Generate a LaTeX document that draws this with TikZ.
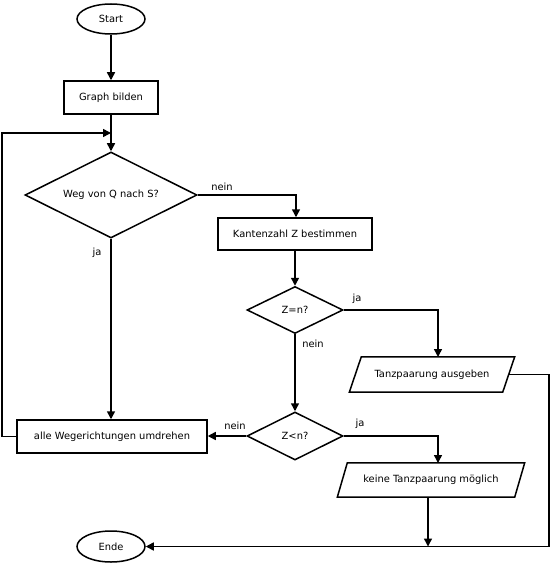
\documentclass[tikz,border=0pt]{standalone}
\usepackage{fontspec}
\setmainfont{DejaVu Sans}
\usetikzlibrary{shapes.geometric,arrows.meta}
\begin{document}
\begin{tikzpicture}[x=1pt,y=-1pt,
  every node/.style={font=\fontsize{9.9}{11}\selectfont, inner sep=0pt},
  line/.style={line width=1.5pt},
  arr/.style={line width=1.5pt, -{Triangle[length=8pt,width=8pt]}},
  term/.style={draw, line width=1.5pt, ellipse, minimum width=68pt, minimum height=30pt},
  procbox/.style={draw, line width=1.5pt, rectangle, minimum height=33pt},
  decide/.style={draw, line width=1.5pt, diamond, aspect=2},
  iobox/.style={rectangle, minimum height=35pt},
  lbl/.style={font=\fontsize{9.9}{11}\selectfont}]
\useasboundingbox (0,0) rectangle (550,564);
\fill[white] (0,0) rectangle (550,564);

\node[term] (start) at (111,19) {Start};
\node[procbox, minimum width=94pt] (graph) at (111,97.5) {Graph bilden};
\node[decide, minimum width=172pt, minimum height=86pt] (d1) at (111,195) {Weg von Q nach S?};
\node[procbox, minimum width=154pt, minimum height=32pt] (kz) at (295,234) {Kantenzahl Z bestimmen};
\node[decide, minimum width=96pt, minimum height=47pt] (d2) at (295,310) {Z=n?};
\node[iobox, minimum width=153pt] (p1) at (432,374.5) {Tanzpaarung ausgeben};
\node[decide, minimum width=96pt, minimum height=48pt] (d3) at (295,436) {Z<n?};
\node[procbox, minimum width=190pt] (umd) at (112,436.5) {alle Wegerichtungen umdrehen};
\node[iobox, minimum width=177pt, minimum height=34pt] (p2) at (431,480) {keine Tanzpaarung möglich};
\node[term, minimum height=31pt] (ende) at (111,546.5) {Ende};

% parallelogram outlines
\draw[line] ([xshift=6pt]p1.north west) -- ([xshift=6pt]p1.north east)
  -- ([xshift=-6pt]p1.south east) -- ([xshift=-6pt]p1.south west) -- cycle;
\draw[line] ([xshift=5pt]p2.north west) -- ([xshift=5pt]p2.north east)
  -- ([xshift=-5pt]p2.south east) -- ([xshift=-5pt]p2.south west) -- cycle;

\coordinate (m) at (111,133);
\coordinate (j) at (428,546.5);

% connectors
\draw[arr] (start) -- (graph);
\draw[arr] (graph) -- (d1);
\draw[arr] (umd.west) -- (2,436.5) -- (2,133) -- (m);
\draw[arr] (d1.east) -- (296,195) -- (kz.north -| 296,0);
\draw[arr] (kz) -- (d2);
\draw[arr] (d2.east) -- (438,310) -- (438,357);
\draw[arr] (d2) -- (d3);
\draw[arr] (d1) -- (umd.north -| d1);
\draw[arr] (d3.west) -- (umd.east |- d3.west);
\draw[arr] (d3.east) -- (438,436) -- (438,463);
\draw[arr] (p2.south -| j) -- (j);
\draw[arr] (p1.east) -- (549,374.5) -- (549,546.5) -- (ende.east);

% labels
\node[lbl] (l1) at (222,187) {nein};
\node[lbl] (l2) at (97,253) {ja};
\node[lbl] (l3) at (357,299) {ja};
\node[lbl] (l4) at (313,344) {nein};
\node[lbl] (l5) at (360,424) {ja};
\node[lbl] (l6) at (235,426) {nein};
\end{tikzpicture}
\end{document}
